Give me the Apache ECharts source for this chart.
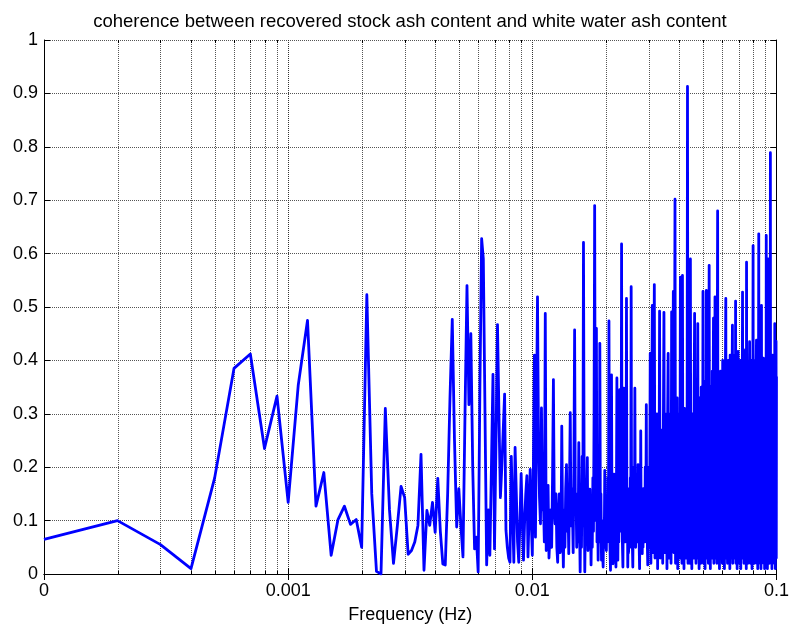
<!DOCTYPE html>
<html><head><meta charset="utf-8">
<script src="https://cdn.jsdelivr.net/npm/echarts@6/dist/echarts.min.js"></script>
<style>html,body{margin:0;padding:0;background:#fff}#c{width:792px;height:629px}</style>
</head><body><div id="c"></div><script>
const titleText = 'coherence between recovered stock ash content and white water ash content';
const xAxisName = 'Frequency (Hz)';
const xTickLabels = ['0', '0.001', '0.01', '0.1'];
const yTickLabels = ['0', '0.1', '0.2', '0.3', '0.4', '0.5', '0.6', '0.7', '0.8', '0.9', '1'];

// segment 1: frequencies k * 1e-4, k = 1..300
const fStep1 = 1e-4;
const coh1 = [
  .065,.10,.055,.01,.18,.385,.412,.235,.333,.134,
  .354,.475,.127,.19,.035,.102,.127,.093,.102,.05,
  .523,.15,.005,0,.31,.12,.02,.09,.164,.143,
  .037,.044,.06,.091,.224,.007,.119,.091,.134,.078,
  .179,.08,.019,.017,.15,.33,.477,.25,.088,.16,
  .09,.032,.30,.54,.317,.45,.2,.047,.069,.004,
  .35,.628,.59,.3,.017,.12,.035,.2,.374,.047,
  .25,.467,.3,.143,.2,.27,.337,.082,.05,.03,
  .022,.22,.12,.022,.237,.15,.06,.022,.1,.188,
  .1,.026,.1,.15,.184,.032,.11,.196,.1,.035,
  .2,.41,.069,.3,.519,.25,.143,.094,.311,.12,
  .14,.06,.488,.044,.1,.166,.03,.069,.12,.05,
  .18,.364,.12,.094,.15,.05,.022,.11,.15,.04,
  .05,.277,.1,.013,.12,.05,.16,.205,.08,.13,
  .038,.17,.302,.09,.16,.119,.04,.2,.457,.12,
  .15,.05,.12,.06,.246,.1,.004,.14,.05,.22,
  .09,.621,.2,.004,.1,.06,.14,.218,.044,.12,
  .06,.159,.09,.017,.11,.05,.18,.08,.3,.69,
  .2,.1,.46,.06,.15,.026,.12,.06,.432,.1,
  .15,.026,.09,.04,.013,.1,.05,.194,.07,.12,
  .044,.13,.06,.18,.09,.474,.12,.05,.007,.15,
  .373,.08,.13,.019,.1,.187,.05,.12,.06,.013,
  .14,.367,.07,.026,.15,.06,.19,.345,.1,.2,
  .08,.618,.12,.05,.013,.15,.348,.09,.17,.06,
  .2,.1,.516,.08,.14,.013,.1,.04,.16,.106,
  .05,.18,.09,.538,.1,.16,.05,.013,.12,.07,
  .2,.08,.348,.12,.05,.15,.088,.17,.06,.13,
  .205,.09,.14,.05,.01,.11,.06,.268,.1,.15,
  .07,.038,.12,.05,.16,.08,.14,.119,.06,.2,
  .1,.16,.317,.08,.13,.05,.017,.14,.06,.2
];

// segment 2: frequencies from 0.0302 to 0.1 in steps of 2e-4
const f2Start = 0.0302;
const fStep2 = 2e-4;
const coh2 = [
  .05,.413,.02,.25,.503,.04,.28,.542,.03,.22,
  .06,.3,.01,.24,.05,.492,.03,.27,.08,.2,
  .02,.26,.49,.04,.3,.07,.22,.01,.28,.413,
  .03,.25,.06,.3,.02,.491,.05,.26,.529,.04,
  .3,.702,.02,.27,.06,.33,.01,.24,.05,.3,
  .03,.556,.07,.28,.02,.559,.04,.26,.01,.31,
  .06,.25,.03,.3,.05,.913,.02,.28,.07,.32,
  .02,.59,.04,.27,.01,.3,.06,.25,.03,.34,
  .488,.05,.29,.02,.31,.07,.26,.469,.03,.3,
  .01,.33,.05,.28,.02,.35,.06,.3,.04,.529,
  .02,.32,.05,.36,.01,.29,.06,.531,.03,.34,
  .07,.3,.02,.37,.578,.04,.33,.01,.35,.05,
  .31,.03,.38,.06,.3,.479,.02,.36,.05,.519,
  .03,.34,.07,.39,.02,.4,.68,.04,.33,.06,
  .36,.01,.34,.05,.38,.03,.35,.07,.37,.02,
  .4,.04,.35,.06,.38,.01,.36,.05,.4,.516,
  .03,.37,.06,.39,.02,.36,.40,.04,.38,.07,
  .35,.01,.41,.05,.37,.03,.39,.06,.38,.466,
  .02,.4,.05,.37,.03,.41,.07,.39,.04,.511,
  .02,.38,.06,.41,.01,.37,.05,.417,.03,.39,
  .07,.36,.02,.33,.05,.4,.01,.31,.06,.37,
  .03,.32,.528,.04,.35,.07,.39,.02,.3,.05,
  .36,.03,.42,.06,.34,.01,.584,.04,.37,.07,
  .33,.02,.38,.05,.3,.03,.36,.435,.06,.39,
  .02,.34,.07,.4,.04,.31,.01,.37,.05,.35,
  .615,.03,.36,.06,.4,.02,.33,.05,.38,.03,
  .35,.07,.39,.438,.02,.36,.05,.32,.01,.4,
  .04,.37,.637,.03,.34,.06,.41,.02,.36,.05,
  .38,.01,.35,.503,.04,.39,.07,.33,.03,.37,
  .05,.404,.02,.36,.06,.4,.01,.34,.04,.38,
  .03,.35,.06,.634,.02,.37,.05,.41,.01,.36,
  .04,.59,.03,.38,.07,.35,.02,.4,.05,.37,
  .03,.789,.06,.36,.02,.311,.05,.39,.01,.35,
  .04,.41,.02,.37,.06,.34,.03,.4,.05,.38,
  .02,.469,.04,.36,.01,.39,.06,.436,.03,.37
];

// minor log grid positions (2..9 x each decade)
const minorGrid = [
  2e-4,3e-4,4e-4,5e-4,6e-4,7e-4,8e-4,9e-4,
  2e-3,3e-3,4e-3,5e-3,6e-3,7e-3,8e-3,9e-3,
  2e-2,3e-2,4e-2,5e-2,6e-2,7e-2,8e-2,9e-2
];

const lineData = coh1.map((v, i) => [(i + 1) * fStep1, v])
  .concat(coh2.map((v, i) => [f2Start + i * fStep2, v]));

const FONT = '"Liberation Sans", Arial, Helvetica, sans-serif';
const chart = echarts.init(document.getElementById('c'), null, {renderer: 'canvas'});

const xLabelFmt = v => xTickLabels[Math.round(Math.log10(v)) + 4];
const yLabelFmt = v => yTickLabels[Math.round(v * 10)];

chart.setOption({
  animation: false,
  backgroundColor: '#fff',
  title: {
    text: titleText, left: 405, top: 7, textAlign: 'center',
    textStyle: {fontFamily: FONT, fontSize: 18.5, fontWeight: 'normal', color: '#000'}
  },
  grid: {left: 44, right: 13, top: 40, bottom: 52, containLabel: false},
  xAxis: [{
    type: 'log', logBase: 10, min: 1e-4, max: 0.1,
    name: xAxisName, nameLocation: 'middle', nameGap: 32,
    nameTextStyle: {fontFamily: FONT, fontSize: 18, color: '#000'},
    axisLine: {show: true, lineStyle: {color: '#000', width: 1}},
    axisTick: {show: true, inside: true, length: 6, lineStyle: {color: '#000'}},
    axisLabel: {formatter: xLabelFmt, fontFamily: FONT, fontSize: 18, color: '#000', margin: 8, showMaxLabel: true, showMinLabel: true},
    splitLine: {show: true, lineStyle: {color: '#333', type: 'dotted', width: 1}},
    minorTick: {show: false}
  }, {
    type: 'log', logBase: 10, min: 1e-4, max: 0.1, position: 'top',
    axisLine: {show: true, lineStyle: {color: '#000', width: 1}},
    axisTick: {show: true, inside: true, length: 6, lineStyle: {color: '#000'}},
    axisLabel: {show: false}, splitLine: {show: false}
  }],
  yAxis: [{
    type: 'value', min: 0, max: 1, interval: 0.1,
    axisLine: {show: true, lineStyle: {color: '#000', width: 1}},
    axisTick: {show: true, inside: true, length: 6, lineStyle: {color: '#000'}},
    axisLabel: {formatter: yLabelFmt, fontFamily: FONT, fontSize: 18, color: '#000', margin: 6},
    splitLine: {show: true, lineStyle: {color: '#555', type: 'dotted', width: 1}}
  }, {
    type: 'value', min: 0, max: 1, interval: 0.1, position: 'right',
    axisLine: {show: true, lineStyle: {color: '#000', width: 1}},
    axisTick: {show: true, inside: true, length: 6, lineStyle: {color: '#000'}},
    axisLabel: {show: false}, splitLine: {show: false}
  }],
  series: [{
    type: 'custom', xAxisIndex: 0, yAxisIndex: 0, silent: true, z: 1,
    data: minorGrid.map(v => [v, 0]),
    encode: {x: 0, y: 1},
    renderItem: (params, api) => {
      const v = api.value(0);
      const top = api.coord([v, 1]);
      const bot = api.coord([v, 0]);
      const x = Math.round(top[0]) + 0.5;
      return {
        type: 'group',
        children: [
          {type: 'line', shape: {x1: x, y1: top[1], x2: x, y2: bot[1]},
           style: {stroke: '#555', lineWidth: 1, lineDash: [1, 1]}},
          {type: 'line', shape: {x1: x, y1: bot[1], x2: x, y2: bot[1] - 3},
           style: {stroke: '#000', lineWidth: 1}},
          {type: 'line', shape: {x1: x, y1: top[1], x2: x, y2: top[1] + 3},
           style: {stroke: '#000', lineWidth: 1}}
        ]
      };
    }
  }, {
    type: 'line', xAxisIndex: 0, yAxisIndex: 0, z: 5,
    data: lineData, showSymbol: false, symbol: 'none', smooth: false,
    sampling: null, clip: true,
    lineStyle: {color: '#0000ff', width: 2.8, join: 'round'}
  }]
});
</script></body></html>
